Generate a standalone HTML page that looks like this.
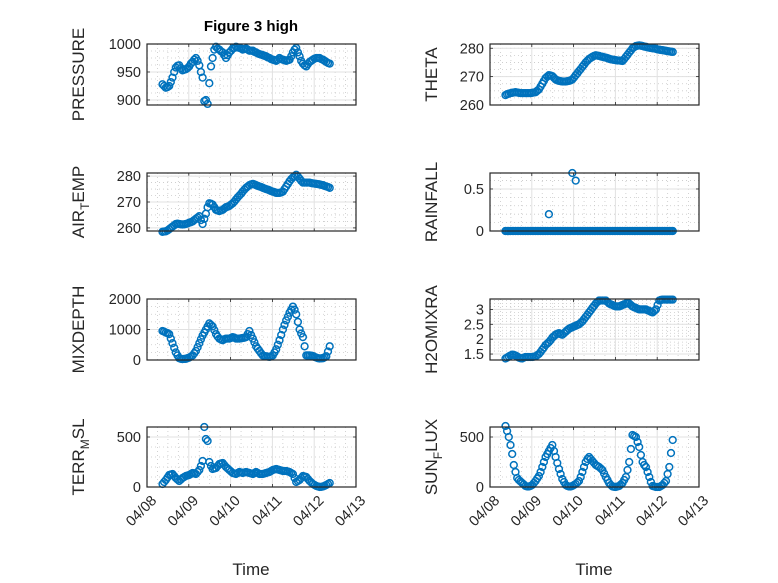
<!DOCTYPE html>
<html><head><meta charset="utf-8"><style>
html,body{margin:0;padding:0;background:#fff;}
svg{display:block;font-family:"Liberation Sans",sans-serif;}
</style></head><body>
<svg id="fig" width="778" height="583" viewBox="0 0 778 583" xmlns="http://www.w3.org/2000/svg">
<rect width="778" height="583" fill="#fff"/>
<text x="251" y="31" text-anchor="middle" font-size="15" font-weight="bold" fill="#000">Figure 3 high</text>
<text x="251" y="575" text-anchor="middle" font-size="17" fill="#262626">Time</text>
<text x="594" y="575" text-anchor="middle" font-size="17" fill="#262626">Time</text>
</svg>
<script>
const timeStart = 8.37;
const timeEnd = 12.37;
const xTickDays = [8,9,10,11,12,13];
const xTickLabels = ["04/08","04/09","04/10","04/11","04/12","04/13"];
const pressure = [928,925,922,923,925,932,940,950,958,961,962,957,953,954,955,957,960,965,968,972,975,970,962,950,940,898,900,893,930,960,975,990,995,992,990,987,985,980,975,980,985,988,992,993,995,994,993,992,990,991,992,990,988,988,988,986,985,983,982,981,980,979,978,976,975,973,972,971,970,972,975,973,972,971,970,971,972,978,985,990,993,985,978,970,965,962,960,964,968,970,972,974,975,975,975,973,972,970,968,966,965];
const theta = [263.5,263.8,264,264.2,264.3,264.4,264.5,264.4,264.3,264.2,264.2,264.2,264.2,264.2,264.2,264.2,264.3,264.4,264.5,265,265.5,266.5,267.5,268.5,269.5,270,270.5,270.4,270.2,269.6,269,268.7,268.5,268.4,268.3,268.3,268.3,268.4,268.5,268.7,269,269.7,270.5,271.2,272,272.7,273.5,274.2,275,275.6,276.2,276.6,277,277.3,277.5,277.4,277.3,277.1,277,276.8,276.7,276.5,276.3,276.1,276,275.9,275.8,275.7,275.7,275.6,275.5,276.2,277,277.7,278.5,279.2,280,280.4,280.8,280.9,281,280.9,280.8,280.6,280.5,280.3,280.2,280.1,280,279.9,279.8,279.6,279.5,279.4,279.3,279.2,279.1,279,278.9,278.8,278.7];
const airTemp = [258.5,258.6,258.7,259,259.5,260,260.5,261,261.5,261.6,261.5,261.4,261.3,261.4,261.5,261.7,262,262.2,262.5,263,263.5,264,264.5,263,261.5,263.5,265.5,268,269.5,269.3,269,268,267,266.7,266.5,266.7,267,267.5,268,268.2,268.5,269,269.5,270.2,271,271.8,272.5,273.2,274,274.8,275.5,276,276.5,276.8,277,276.8,276.5,276.2,276,275.8,275.5,275.2,275,274.8,274.5,274.2,274,273.8,273.5,273.5,273.5,273.7,274,275,276,277,278,278.8,279.5,280,280.5,279.8,279,278.2,277.5,277.5,277.5,277.5,277.5,277.3,277.2,277.1,277,276.9,276.8,276.6,276.5,276.2,276,275.8,275.5];
const rainfall = [0,0,0,0,0,0,0,0,0,0,0,0,0,0,0,0,0,0,0,0,0,0,0,0,0,0,0.2,0,0,0,0,0,0,0,0,0,0,0,0,0,0.69,0,0.6,0,0,0,0,0,0,0,0,0,0,0,0,0,0,0,0,0,0,0,0,0,0,0,0,0,0,0,0,0,0,0,0,0,0,0,0,0,0,0,0,0,0,0,0,0,0,0,0,0,0,0,0,0,0,0,0,0,0];
const rainfallBase = [0,0,0,0,0,0,0,0,0,0,0,0,0,0,0,0,0,0,0,0,0,0,0,0,0,0,0,0,0,0,0,0,0,0,0,0,0,0,0,0,0,0,0,0,0,0,0,0,0,0,0,0,0,0,0,0,0,0,0,0,0,0,0,0,0,0,0,0,0,0,0,0,0,0,0,0,0,0,0,0,0,0,0,0,0,0,0,0,0,0,0,0,0,0,0,0,0,0,0,0,0];
const mixDepth = [950,930,900,880,850,700,550,400,250,150,60,40,30,35,40,60,80,110,150,220,300,420,550,680,800,900,1000,1100,1200,1150,1100,980,850,770,700,670,650,680,700,700,700,720,750,730,700,700,700,710,720,730,750,850,950,820,700,580,450,370,300,220,150,130,120,110,100,120,150,250,350,500,650,820,1000,1150,1300,1420,1550,1650,1750,1650,1500,1250,1000,870,750,450,150,150,150,140,130,100,80,60,50,55,60,90,120,280,450];
const h2oMix = [1.35,1.38,1.42,1.45,1.48,1.47,1.45,1.42,1.38,1.36,1.35,1.38,1.4,1.4,1.4,1.4,1.4,1.41,1.42,1.46,1.5,1.57,1.65,1.72,1.8,1.85,1.9,1.97,2.05,2.1,2.15,2.18,2.2,2.17,2.15,2.2,2.25,2.3,2.35,2.38,2.4,2.43,2.45,2.48,2.5,2.55,2.6,2.67,2.75,2.82,2.9,2.97,3.05,3.12,3.2,3.25,3.3,3.3,3.3,3.3,3.3,3.25,3.2,3.17,3.15,3.12,3.1,3.1,3.1,3.12,3.15,3.17,3.2,3.2,3.2,3.15,3.1,3.07,3.05,3.02,3.0,3.0,3.0,3.0,3.0,2.97,2.95,2.92,2.9,2.95,3.0,3.15,3.3,3.32,3.33,3.33,3.33,3.33,3.33,3.33,3.33];
const terrMsl = [30,50,70,95,120,125,130,110,90,75,60,75,90,100,110,115,120,130,140,135,130,150,170,210,260,600,480,460,250,210,180,185,190,210,230,235,240,220,200,185,170,155,140,135,130,140,150,145,140,145,150,145,140,135,130,140,150,140,130,130,130,135,140,145,150,160,170,175,180,175,170,165,160,160,160,155,150,140,130,90,50,60,70,90,110,105,100,80,60,45,30,20,10,5,0,2,5,12,20,30,40];
const sunFlux = [610,560,500,420,330,220,150,90,70,55,40,25,10,5,5,10,20,40,60,85,110,150,200,250,300,330,360,390,420,360,300,240,180,130,80,50,20,10,5,5,10,20,30,45,60,100,150,200,250,280,300,280,260,240,220,210,200,185,170,135,100,70,40,20,5,2,0,5,10,25,40,70,100,170,250,380,520,510,500,450,400,320,250,220,200,150,100,50,10,5,0,0,0,10,20,40,60,130,200,340,470];
const pressureTicks = [900,950,1000];
const thetaTicks = [260,270,280];
const airTicks = [260,270,280];
const rainTicks = [0,0.5];
const mixTicks = [0,1000,2000];
const h2oTicks = [1.5,2,2.5,3];
const terrTicks = [0,500];
const sunTicks = [0,500];

const NS = "http://www.w3.org/2000/svg";
const svg = document.getElementById('fig');
function mk(tag, attrs, parent){
  const e = document.createElementNS(NS, tag);
  for (const k in attrs) e.setAttribute(k, attrs[k]);
  (parent||svg).appendChild(e);
  return e;
}
const COLS = [{x0:147,x1:356},{x0:490,x1:699}];
const ROWS = [{y0:44,y1:105},{y0:173,y1:231},{y0:299,y1:360},{y0:427,y1:487}];

function panel(o){
  const c = COLS[o.col], r = ROWS[o.row];
  const g = mk('g', {});
  
  
  const xs = d => c.x0 + (d - 8) / 5 * (c.x1 - c.x0);
  const ys = v => r.y1 - (v - o.ymin) / (o.ymax - o.ymin) * (r.y1 - r.y0);
  for (let d = 8; d < 13; d += 0.25) {
    if (Math.abs(d - Math.round(d)) < 1e-6) continue;
    const l = mk('line', {x1:xs(d), x2:xs(d), y1:r.y0, y2:r.y1, stroke:'#c8c8c8', 'stroke-width':0.8, 'stroke-dasharray':'1,3'}, g);
    
    
  }
  for (let v = o.minorStart; v <= o.ymax; v += o.minorStep) {
    const y = ys(v);
    if (y < r.y0 || y > r.y1) continue;
    const l = mk('line', {x1:c.x0, x2:c.x1, y1:y, y2:y, stroke:'#c8c8c8', 'stroke-width':0.8, 'stroke-dasharray':'1,3'}, g);
    
    
  }
  xTickDays.forEach(d => {
    const l = mk('line', {x1:xs(d), x2:xs(d), y1:r.y0, y2:r.y1, stroke:'#e1e1e1', 'stroke-width':1}, g);
    
    
    mk('line', {x1:xs(d), x2:xs(d), y1:r.y1, y2:r.y1-3, stroke:'#262626', 'stroke-width':0.8}, g);
    mk('line', {x1:xs(d), x2:xs(d), y1:r.y0, y2:r.y0+3, stroke:'#262626', 'stroke-width':0.8}, g);
  });
  o.ticks.forEach((v, i) => {
    const y = ys(v);
    const l = mk('line', {x1:c.x0, x2:c.x1, y1:y, y2:y, stroke:'#e1e1e1', 'stroke-width':1}, g);
    
    
    mk('line', {x1:c.x0, x2:c.x0+3, y1:y, y2:y, stroke:'#262626', 'stroke-width':0.8}, g);
    mk('line', {x1:c.x1, x2:c.x1-3, y1:y, y2:y, stroke:'#262626', 'stroke-width':0.8}, g);
    const t = mk('text', {x:c.x0-6, y:y+5, 'text-anchor':'end', 'font-size':14.5, fill:'#262626'}, g);
    
    
    t.textContent = String(v);
  });
  const yc = v => Math.min(r.y1+3, Math.max(r.y0-3, ys(v)));
  o.series.forEach(ser => {
    const n = ser.length;
    ser.forEach((v, i) => {
      const t = timeStart + i * (timeEnd - timeStart) / (n - 1);
      const m = mk('circle', {cx:xs(t).toFixed(1), cy:yc(v).toFixed(1), r:3.4, fill:'none', stroke:'#0072BD', 'stroke-width':1.5}, g);
      
      
    });
  });
  const b = mk('rect', {x:c.x0, y:r.y0, width:c.x1-c.x0, height:r.y1-r.y0, fill:'none', stroke:'#262626', 'stroke-width':1.2}, g);
  
  
  const lx = o.col === 0 ? 84 : 437;
  const cy = (r.y0 + r.y1) / 2;
  const yl = mk('text', {x:lx, y:cy, 'text-anchor':'middle', 'font-size':17, fill:'#262626', transform:'rotate(-90 '+lx+' '+cy+')'}, g);
  
  
  if (o.sub) {
    const a = mk('tspan', {}, yl); a.textContent = o.sub[0];
    const s = mk('tspan', {'font-size':12, dy:5}, yl); s.textContent = o.sub[1];
    const z = mk('tspan', {dy:-5}, yl); z.textContent = o.sub[2];
  } else yl.textContent = o.label;
  if (o.row === 3) {
    xTickDays.forEach((d, i) => {
      const x = xs(d) + 4, y = r.y1 + 8;
      const t = mk('text', {x:x, y:y, 'text-anchor':'end', 'font-size':14.5, fill:'#262626', transform:'rotate(-45 '+x+' '+y+')', dy:9}, g);
      
      
      t.textContent = xTickLabels[i];
    });
  }
}
panel({name:'pressure', col:0,row:0, ymin:891, ymax:1000, ticks:pressureTicks, minorStart:900, minorStep:12.5, series:[pressure], label:'PRESSURE'});
panel({name:'theta', col:1,row:0, ymin:260, ymax:281.5, ticks:thetaTicks, minorStart:260, minorStep:2.5, series:[theta], label:'THETA'});
panel({name:'air-temp', col:0,row:1, ymin:258.8, ymax:281.2, ticks:airTicks, minorStart:260, minorStep:2.5, series:[airTemp], sub:['AIR','T','EMP']});
panel({name:'rainfall', col:1,row:1, ymin:0, ymax:0.69, ticks:rainTicks, minorStart:0, minorStep:0.1, series:[rainfallBase, rainfall], label:'RAINFALL'});
panel({name:'mixdepth', col:0,row:2, ymin:0, ymax:2000, ticks:mixTicks, minorStart:0, minorStep:250, series:[mixDepth], label:'MIXDEPTH'});
panel({name:'h2omixra', col:1,row:2, ymin:1.3, ymax:3.35, ticks:h2oTicks, minorStart:1.5, minorStep:0.1, series:[h2oMix], label:'H2OMIXRA'});
panel({name:'terr-msl', col:0,row:3, ymin:0, ymax:600, ticks:terrTicks, minorStart:0, minorStep:100, series:[terrMsl], sub:['TERR','M','SL']});
panel({name:'sun-flux', col:1,row:3, ymin:0, ymax:600, ticks:sunTicks, minorStart:0, minorStep:100, series:[sunFlux], sub:['SUN','F','LUX']});
</script>
</body></html>
